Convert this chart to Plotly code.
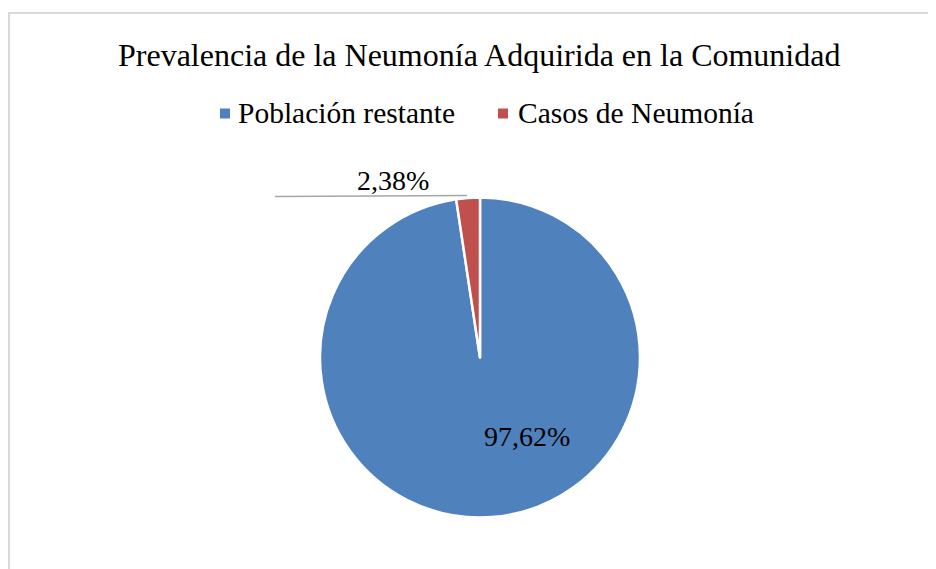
import plotly.graph_objects as go

labels = ["Población restante", "Casos de Neumonía"]
values = [97.62, 2.38]
colors = ["#4f81bd", "#c0504d"]
title_text = "Prevalencia de la Neumonía Adquirida en la Comunidad"

# The page body has an 8px default margin: shift the figure content accordingly
OFF = 8
W, H = 936 - OFF, 569 - OFF
FONT = "Liberation Serif, Times New Roman, serif"


def px(x):
    return (x - OFF) / W


def py(y):
    return 1 - (y - OFF) / H


def fmt(v):
    return f"{v:.2f}".replace(".", ",") + "%"


fig = go.Figure()
fig.add_trace(go.Pie(
    labels=labels, values=values, sort=False, direction="clockwise", rotation=0,
    marker=dict(colors=colors, line=dict(color="white", width=2.5)),
    textinfo="none", hoverinfo="label+percent",
    domain=dict(x=[px(320), px(640)], y=[py(517.5), py(197.5)]),
    showlegend=False,
))

annotations = [
    dict(text=title_text, x=px(479), y=py(55), xref="paper", yref="paper",
         showarrow=False, font=dict(family=FONT, size=32, color="#000000"),
         xanchor="center", yanchor="middle"),
    dict(text=fmt(values[0]), x=px(527), y=py(437), xref="paper", yref="paper",
         showarrow=False, font=dict(family=FONT, size=28, color="#000000"),
         xanchor="center", yanchor="middle"),
    dict(text=fmt(values[1]), x=px(393), y=py(181), xref="paper", yref="paper",
         showarrow=False, font=dict(family=FONT, size=28, color="#000000"),
         xanchor="center", yanchor="middle"),
]

shapes = [
    # chart frame (top and left edges visible)
    dict(type="line", xref="paper", yref="paper", x0=px(8), x1=1.0, y0=py(13), y1=py(13),
         line=dict(color="#d9d9d9", width=2)),
    dict(type="line", xref="paper", yref="paper", x0=px(9), x1=px(9), y0=0, y1=py(13),
         line=dict(color="#d9d9d9", width=2)),
    # leader line of the small slice label
    dict(type="line", xref="paper", yref="paper", x0=px(275), x1=px(467),
         y0=py(196.5), y1=py(195.5), line=dict(color="#a6a6a6", width=1.5)),
]

# legend drawn as square markers + text
legend_sq_x = [225, 503]
legend_txt_x = [236, 516]
legend_y = 113.5
for lab, col, sx, tx in zip(labels, colors, legend_sq_x, legend_txt_x):
    shapes.append(dict(type="rect", xref="paper", yref="paper",
                       x0=px(sx - 5), x1=px(sx + 5), y0=py(legend_y + 5), y1=py(legend_y - 5),
                       fillcolor=col, line=dict(width=0)))
    annotations.append(dict(text=lab, x=px(tx), y=py(legend_y), xref="paper", yref="paper",
                            showarrow=False, font=dict(family=FONT, size=29.5, color="#000000"),
                            xanchor="left", yanchor="middle"))

fig.update_layout(
    width=W, height=H,
    margin=dict(l=0, r=0, t=0, b=0),
    paper_bgcolor="white", plot_bgcolor="white",
    font=dict(family=FONT),
    annotations=annotations, shapes=shapes,
    showlegend=False,
)

fig.write_html("out.html")
